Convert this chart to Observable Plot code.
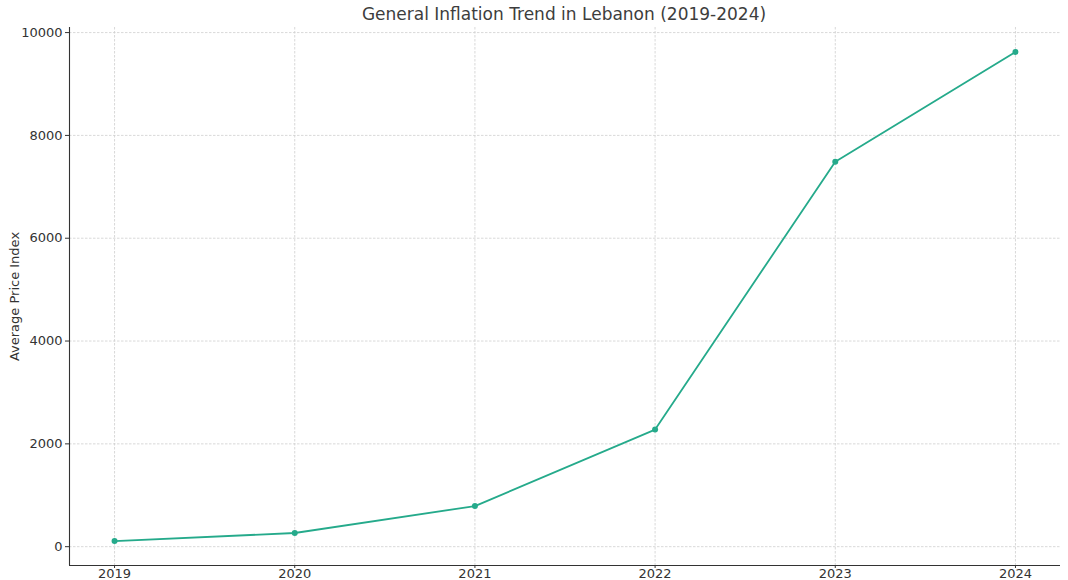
<!DOCTYPE html>
<html>
<head>
<meta charset="utf-8">
<script src="https://cdn.jsdelivr.net/npm/d3@7"></script>
<script src="https://cdn.jsdelivr.net/npm/@observablehq/plot@0.6"></script>
<style>
  html, body { margin: 0; padding: 0; background: #fff; }
  body { width: 1068px; height: 580px; overflow: hidden; font-family: "DejaVu Sans", sans-serif; }
  #title { height: 22px; position: relative; }
  #title span { position: absolute; left: 564px; top: 4px; transform: translateX(-50%); font-size: 17px; color: #3d3d3d; white-space: nowrap; }
  svg { display: block; overflow: visible; }
</style>
</head>
<body>
<div id="title"><span>General Inflation Trend in Lebanon (2019-2024)</span></div>
<div id="chart"></div>
<script>
const years = [2019, 2020, 2021, 2022, 2023, 2024];
const priceIndex = [110, 266, 790, 2278, 7488, 9623];
const yTicks = [0, 2000, 4000, 6000, 8000, 10000];
const xDomain = [2018.75, 2024.25];
const yDomain = [-366, 10099];
const lineColor = "#25aa8b";

const data = years.map((y, i) => ({year: y, value: priceIndex[i]}));

const chart = Plot.plot({
  width: 1068,
  height: 556,
  marginTop: 5,
  marginLeft: 69,
  marginRight: 8,
  marginBottom: 13,
  style: {fontFamily: "DejaVu Sans, sans-serif", fontSize: "13px", color: "#333", background: "#fff", overflow: "visible"},
  x: {domain: xDomain},
  y: {domain: yDomain},
  marks: [
    Plot.ruleY(yTicks, {y: d => d, stroke: "#cfcfcf", strokeWidth: 0.8, strokeDasharray: "2.5,1.5"}),
    Plot.ruleX(years, {x: d => d, stroke: "#cfcfcf", strokeWidth: 0.8, strokeDasharray: "2.5,1.5"}),
    Plot.axisY({ticks: yTicks, tickFormat: d => String(d), tickSize: 4, tickPadding: 3, label: null, stroke: "#333", fontSize: 13}),
    Plot.axisX({ticks: years, tickFormat: d => String(d), tickSize: 3, tickPadding: 0, label: null, stroke: "#333", fontSize: 13}),
    Plot.ruleX([xDomain[0]], {stroke: "#333", strokeWidth: 1.1}),
    Plot.ruleY([yDomain[0]], {stroke: "#333", strokeWidth: 1.1}),
    Plot.line(data, {x: "year", y: "value", stroke: lineColor, strokeWidth: 1.8}),
    Plot.dot(data, {x: "year", y: "value", fill: lineColor, r: 3, stroke: "none"}),
    Plot.text(["Average Price Index"], {frameAnchor: "left", dx: -55, rotate: -90, textAnchor: "middle", text: d => d, fontSize: 13, fill: "#333"})
  ]
});
document.getElementById("chart").appendChild(chart);
</script>
</body>
</html>
